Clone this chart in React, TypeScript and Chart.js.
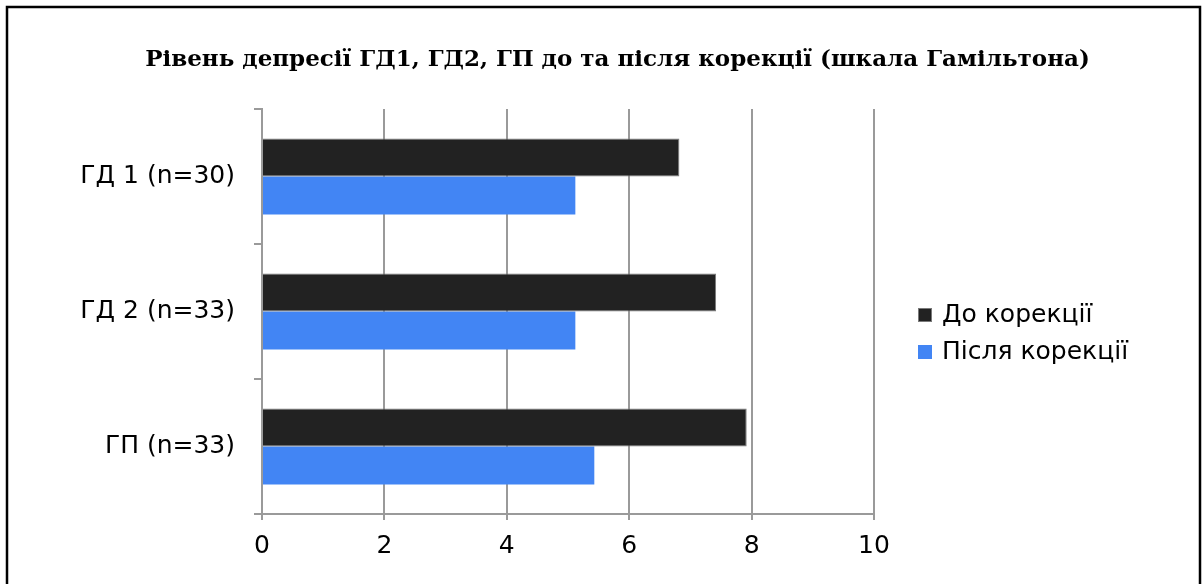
import { useEffect, useRef } from "react";
import { Chart, registerables } from "chart.js";

Chart.register(...registerables);

// Chart content
const titleText = "Рівень депресії ГД1, ГД2, ГП до та після корекції (шкала Гамільтона)";
const categories = ["ГД 1 (n=30)", "ГД 2 (n=33)", "ГП (n=33)"];
const seriesNames = ["До корекції", "Після корекції"];
const beforeValues = [6.82, 7.42, 7.92];
const afterValues = [5.12, 5.12, 5.43];
const xTicks = [0, 2, 4, 6, 8, 10];

const seriesColors = ["#222222", "#4285f4"];
const seriesBorders = ["#7a7a7a", "#4285f4"];

const sansFont = "'DejaVu Sans', sans-serif";
const serifFont = "'DejaVu Serif', serif";
const gridColor = "#9a9a9a";

// Frame around the figure, title placement and a right-hand legend
const framePlugin = {
  id: "frameAndLegend",
  afterLayout(chart: any) {
    const t = chart.titleBlock;
    if (t) {
      t.left = 32;
      t.right = chart.width;
    }
  },
  afterDraw(chart: any) {
    const ctx = chart.ctx as CanvasRenderingContext2D;
    ctx.save();
    ctx.strokeStyle = "#000";
    ctx.lineWidth = 2.5;
    ctx.beginPath();
    ctx.moveTo(7, chart.height + 5);
    ctx.lineTo(7, 7);
    ctx.lineTo(1200, 7);
    ctx.lineTo(1200, chart.height + 5);
    ctx.stroke();

    const boxX = 918;
    const box = 14;
    const rows = [315, 352];
    ctx.font = `25px ${sansFont}`;
    ctx.textBaseline = "middle";
    ctx.textAlign = "left";
    chart.data.datasets.forEach((ds: any, i: number) => {
      const y = rows[i];
      ctx.fillStyle = ds.backgroundColor;
      ctx.fillRect(boxX, y - box / 2, box, box);
      if (i === 0) {
        ctx.lineWidth = 1;
        ctx.strokeStyle = "#7a7a7a";
        ctx.strokeRect(boxX + 0.5, y - box / 2 + 0.5, box - 1, box - 1);
      }
      ctx.fillStyle = "#000";
      ctx.fillText(ds.label, 942, y);
    });
    ctx.restore();
  },
};

export default function App() {
  const canvasRef = useRef<HTMLCanvasElement | null>(null);

  useEffect(() => {
    if (!canvasRef.current) return;
    const chart = new Chart(canvasRef.current, {
      type: "bar",
      data: {
        labels: categories,
        datasets: [
          {
            label: seriesNames[0],
            data: beforeValues,
            backgroundColor: seriesColors[0],
            borderColor: seriesBorders[0],
            borderWidth: 1,
          },
          {
            label: seriesNames[1],
            data: afterValues,
            backgroundColor: seriesColors[1],
            borderColor: seriesBorders[1],
            borderWidth: 0,
          },
        ],
      },
      options: {
        indexAxis: "y",
        responsive: true,
        maintainAspectRatio: false,
        animation: false,
        layout: { padding: { top: 0, left: 0, right: 329, bottom: 0 } },
        datasets: {
          bar: { categoryPercentage: 0.563, barPercentage: 1 },
        },
        plugins: {
          legend: { display: false },
          tooltip: { enabled: false },
          title: {
            display: true,
            text: titleText,
            color: "#000",
            font: { family: serifFont, size: 23, weight: "bold" },
            padding: { top: 46, bottom: 35.4 },
          },
        },
        scales: {
          x: {
            type: "linear",
            position: "bottom",
            min: 0,
            max: 10,
            afterBuildTicks: (s: any) => {
              s.ticks = xTicks.map((v) => ({ value: v }));
            },
            afterFit: (s: any) => {
              s.height = 70;
            },
            grid: {
              color: gridColor,
              lineWidth: 2,
              drawTicks: true,
              tickLength: 6,
            },
            border: { display: true, color: gridColor, width: 2 },
            ticks: {
              color: "#000",
              padding: 11,
              maxRotation: 0,
              font: { family: sansFont, size: 25 },
            },
          },
          y: {
            type: "category",
            position: "left",
            offset: true,
            afterFit: (s: any) => {
              s.width = 262;
            },
            grid: {
              offset: true,
              drawOnChartArea: false,
              color: gridColor,
              lineWidth: 2,
              tickLength: 8,
            },
            border: { display: true, color: gridColor, width: 2 },
            ticks: {
              color: "#000",
              padding: 19,
              font: { family: sansFont, size: 25 },
            },
          },
        },
      },
      plugins: [framePlugin],
    });
    return () => chart.destroy();
  }, []);

  return (
    <div
      style={{
        position: "fixed",
        left: 0,
        top: 0,
        width: 1203,
        height: 584,
        background: "#fff",
      }}
    >
      <canvas ref={canvasRef} />
    </div>
  );
}
